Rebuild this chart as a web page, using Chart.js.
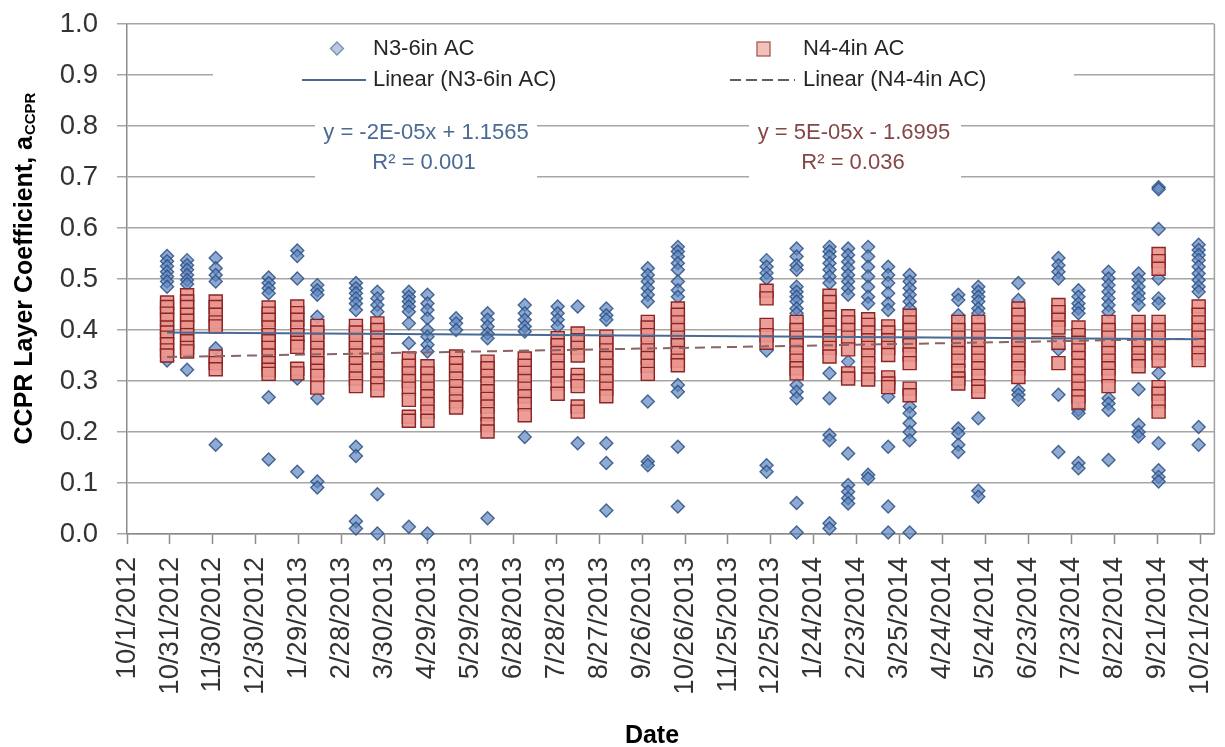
<!DOCTYPE html>
<html><head><meta charset="utf-8">
<script src="https://cdn.jsdelivr.net/npm/chart.js@4.4.1/dist/chart.umd.min.js"></script>
<style>html,body{margin:0;padding:0;background:#fff;overflow:hidden}</style>
</head><body>
<canvas id="c" width="1225" height="747"></canvas>
<script>
const FONT = "'Liberation Sans', Arial, sans-serif";
const axisStartDate = '2012-10-01';
const axisMaxDays = 760;
const tickStepDays = 30;
const xTickLabels = ['10/1/2012','10/31/2012','11/30/2012','12/30/2012','1/29/2013','2/28/2013','3/30/2013','4/29/2013','5/29/2013','6/28/2013','7/28/2013','8/27/2013','9/26/2013','10/26/2013','11/25/2013','12/25/2013','1/24/2014','2/23/2014','3/25/2014','4/24/2014','5/24/2014','6/23/2014','7/23/2014','8/22/2014','9/21/2014','10/21/2014'];

const dates = ['2012-10-29','2012-11-12','2012-12-02','2013-01-08','2013-01-28','2013-02-11','2013-03-10','2013-03-25','2013-04-16','2013-04-29','2013-05-19','2013-06-10','2013-07-06','2013-07-29','2013-08-12','2013-09-01','2013-09-30','2013-10-21','2013-12-22','2014-01-12','2014-02-04','2014-02-17','2014-03-03','2014-03-17','2014-04-01','2014-05-05','2014-05-19','2014-06-16','2014-07-14','2014-07-28','2014-08-18','2014-09-08','2014-09-22','2014-10-20'];

const n3Values = [
 [.545,.535,.525,.514,.505,.495,.485,.34],
 [.537,.527,.518,.508,.498,.49,.322],
 [.541,.521,.508,.495,.364,.175],
 [.503,.492,.482,.472,.268,.146],
 [.556,.545,.501,.305,.122],
 [.488,.478,.469,.426,.266,.103,.091],
 [.492,.482,.472,.462,.452,.439,.171,.153,.025,.011],
 [.475,.462,.449,.436,.078,.001],
 [.475,.465,.456,.446,.436,.413,.374,.014],
 [.469,.452,.439,.423,.40,.387,.371,.358,.001],
 [.423,.413,.40],
 [.433,.42,.407,.393,.384,.031],
 [.449,.433,.42,.407,.397,.19],
 [.446,.433,.42,.407],
 [.446,.178],
 [.442,.429,.42,.178,.139,.046],
 [.521,.508,.495,.482,.469,.456,.26,.142,.135],
 [.563,.554,.544,.531,.518,.495,.478,.465,.292,.279,.171,.054],
 [.537,.524,.512,.501,.36,.135,.122],
 [.56,.544,.527,.518,.485,.475,.465,.456,.442,.433,.292,.279,.266,.061,.003],
 [.563,.554,.544,.531,.518,.505,.492,.315,.266,.194,.184,.021,.011],
 [.56,.547,.534,.521,.508,.495,.482,.469,.338,.158,.096,.083,.07,.06],
 [.563,.544,.524,.505,.485,.465,.452,.116,.109],
 [.524,.508,.492,.472,.452,.439,.269,.171,.054,.003],
 [.508,.495,.482,.469,.456,.442,.25,.237,.217,.20,.184,.003],
 [.469,.459,.429,.207,.197,.175,.161],
 [.485,.475,.465,.456,.442,.433,.227,.085,.073],
 [.492,.459,.282,.273,.263],
 [.541,.527,.514,.501,.362,.273,.161],
 [.478,.465,.452,.442,.433,.243,.237,.139,.129],
 [.514,.501,.488,.475,.462,.449,.436,.266,.256,.243,.145],
 [.511,.498,.485,.472,.462,.449,.284,.214,.20,.191],
 [.68,.676,.598,.501,.462,.452,.315,.178,.125,.112,.103],
 [.567,.557,.547,.537,.524,.511,.498,.485,.475,.21,.175]
];

const n4Values = [
 [.454,.445,.432,.42,.405,.395,.385,.372,.36,.35],
 [.468,.456,.445,.43,.418,.405,.39,.378,.365,.358],
 [.456,.445,.43,.415,.407,.348,.335,.323],
 [.444,.432,.42,.405,.39,.378,.365,.35,.335,.322,.314],
 [.446,.433,.42,.405,.39,.375,.367,.324,.315],
 [.408,.395,.38,.365,.35,.335,.32,.31,.287],
 [.408,.395,.38,.365,.35,.335,.32,.305,.29],
 [.413,.40,.385,.37,.355,.34,.325,.31,.295,.282],
 [.344,.33,.315,.30,.285,.263,.23,.222],
 [.329,.315,.30,.285,.27,.255,.24,.222],
 [.348,.335,.32,.305,.29,.275,.26,.248],
 [.338,.325,.31,.295,.28,.265,.25,.235,.215,.201],
 [.344,.33,.316,.30,.285,.27,.255,.233],
 [.384,.37,.355,.34,.325,.31,.295,.275],
 [.393,.38,.365,.35,.312,.30,.29,.25,.24],
 [.387,.375,.36,.345,.33,.315,.30,.285,.27],
 [.416,.405,.39,.375,.36,.345,.33,.314],
 [.442,.43,.415,.40,.385,.37,.355,.34,.331],
 [.477,.462,.41,.39,.375],
 [.416,.40,.385,.37,.355,.34,.325,.315],
 [.467,.455,.44,.425,.41,.395,.38,.365,.348],
 [.427,.415,.40,.385,.362,.315,.305],
 [.421,.41,.395,.38,.365,.35,.335,.315,.303],
 [.407,.395,.38,.365,.351,.307,.295,.288],
 [.428,.415,.40,.385,.37,.352,.335,.285,.272],
 [.416,.40,.385,.37,.355,.34,.32,.305,.295],
 [.416,.40,.385,.37,.355,.34,.325,.31,.29,.279],
 [.442,.43,.415,.40,.385,.37,.355,.34,.325,.308],
 [.449,.435,.42,.405,.375,.335],
 [.405,.39,.375,.36,.345,.33,.315,.30,.285,.27,.258],
 [.416,.40,.385,.37,.355,.34,.325,.31,.29],
 [.416,.40,.385,.37,.355,.34,.329],
 [.549,.535,.52,.416,.40,.385,.37,.355,.34,.288,.275,.26,.24],
 [.446,.43,.415,.40,.385,.37,.355,.341]
];

const trendN3 = [0.395, 0.382];
const trendN4 = [0.347, 0.383];

const eqN3 = ['y = -2E-05x + 1.1565', 'R\u00B2 = 0.001'];
const eqN4 = ['y = 5E-05x - 1.6995', 'R\u00B2 = 0.036'];

function dayOffset(s) {
  const [y, m, d] = s.split('-').map(Number);
  const [y0, m0, d0] = axisStartDate.split('-').map(Number);
  return Math.round((Date.UTC(y, m - 1, d) - Date.UTC(y0, m0 - 1, d0)) / 86400000);
}
const n3Points = dates.flatMap((d, i) => n3Values[i].map(v => ({ x: dayOffset(d), y: v })));
const n4Points = dates.flatMap((d, i) => n4Values[i].map(v => ({ x: dayOffset(d), y: v })));
const firstX = dayOffset(dates[0]), lastX = dayOffset(dates[dates.length - 1]);
const trendN3Points = [{ x: firstX, y: trendN3[0] }, { x: lastX, y: trendN3[1] }];
const trendN4Points = [{ x: firstX, y: trendN4[0] }, { x: lastX, y: trendN4[1] }];

const BLUE_LINE = '#4A6A94';
const RED_LINE = '#8C6262';

const overlay = {
  id: 'overlay',
  beforeDatasetsDraw(chart) {
    const ctx = chart.ctx, a = chart.chartArea;
    ctx.save();
    ctx.fillStyle = '#ffffff';
    ctx.fillRect(213, a.top + 2, 861, 76);
    ctx.fillRect(315, 112, 222, 70);
    ctx.fillRect(749, 112, 212, 70);
    ctx.strokeStyle = '#a0a0a0';
    ctx.lineWidth = 1.5;
    ctx.beginPath(); ctx.moveTo(a.right, a.top); ctx.lineTo(a.right, a.bottom); ctx.stroke();
    ctx.restore();
  },
  afterDraw(chart) {
    const ctx = chart.ctx;
    ctx.save();
    ctx.font = '22px ' + FONT;
    ctx.textBaseline = 'middle';
    ctx.textAlign = 'left';
    ctx.fillStyle = '#262626';
    ctx.fillText('N3-6in AC', 373, 49);
    ctx.fillText('Linear (N3-6in AC)', 373, 80);
    ctx.fillText('N4-4in AC', 803, 49);
    ctx.fillText('Linear (N4-4in AC)', 803, 80);
    ctx.beginPath();
    ctx.moveTo(337, 42); ctx.lineTo(343.5, 48.5); ctx.lineTo(337, 55); ctx.lineTo(330.5, 48.5); ctx.closePath();
    ctx.fillStyle = '#B7CADF'; ctx.fill();
    ctx.strokeStyle = '#7890B0'; ctx.lineWidth = 1.3; ctx.stroke();
    ctx.fillStyle = '#F3C0BB';
    ctx.fillRect(757, 42, 13, 14);
    ctx.strokeStyle = '#A85A5A'; ctx.strokeRect(757, 42, 13, 14);
    ctx.lineWidth = 2;
    ctx.strokeStyle = BLUE_LINE;
    ctx.beginPath(); ctx.moveTo(302, 80); ctx.lineTo(366, 80); ctx.stroke();
    ctx.strokeStyle = '#6a5a5a';
    ctx.setLineDash([11, 5]);
    ctx.beginPath(); ctx.moveTo(730, 80); ctx.lineTo(795, 80); ctx.stroke();
    ctx.setLineDash([]);
    ctx.textAlign = 'center';
    ctx.fillStyle = '#4A6A94';
    ctx.fillText(eqN3[0], 426, 133);
    ctx.fillText(eqN3[1], 424, 163);
    ctx.fillStyle = '#874646';
    ctx.fillText(eqN4[0], 854, 133);
    ctx.fillText(eqN4[1], 853, 163);
    ctx.fillStyle = '#000';
    ctx.font = 'bold 25px ' + FONT;
    ctx.fillText('Date', 652, 736);
    ctx.translate(25, 269);
    ctx.rotate(-Math.PI / 2);
    const main = 'CCPR Layer Coefficient, a', sub = 'CCPR';
    ctx.font = 'bold 25px ' + FONT;
    const wm = ctx.measureText(main).width;
    ctx.font = 'bold 15px ' + FONT;
    const ws = ctx.measureText(sub).width;
    const x0 = -(wm + ws) / 2;
    ctx.textAlign = 'left';
    ctx.font = 'bold 25px ' + FONT;
    ctx.fillText(main, x0, 0);
    ctx.font = 'bold 15px ' + FONT;
    ctx.fillText(sub, x0 + wm + 1, 6);
    ctx.restore();
  }
};

new Chart(document.getElementById('c'), {
  type: 'scatter',
  data: {
    datasets: [
      { type: 'line', label: 'Linear (N3-6in AC)', data: trendN3Points, borderColor: BLUE_LINE, borderWidth: 2, pointRadius: 0, fill: false, order: 0 },
      { type: 'line', label: 'Linear (N4-4in AC)', data: trendN4Points, borderColor: RED_LINE, borderWidth: 2, borderDash: [10, 6], pointRadius: 0, fill: false, order: 1 },
      { label: 'N4-4in AC', data: n4Points, pointStyle: 'rect', pointRadius: 9.2, backgroundColor: 'rgba(234,150,143,0.92)', borderColor: '#8B2424', borderWidth: 1.4, clip: false, order: 2 },
      { label: 'N3-6in AC', data: n3Points, pointStyle: 'rectRot', pointRadius: 6.5, backgroundColor: 'rgba(95,135,192,0.7)', borderColor: 'rgba(45,80,130,0.85)', borderWidth: 1.4, clip: false, order: 3 }
    ]
  },
  options: {
    responsive: false,
    animation: false,
    devicePixelRatio: 1,
    layout: { padding: { left: 0, right: 8, top: 24, bottom: 0 } },
    plugins: { legend: { display: false }, tooltip: { enabled: false } },
    scales: {
      x: {
        type: 'linear', min: 0, max: axisMaxDays,
        afterBuildTicks: s => { s.ticks = xTickLabels.map((_, i) => ({ value: i * tickStepDays })); },
        afterFit: s => { s.height = 213; s.paddingLeft = 0; s.paddingRight = 0; },
        ticks: {
          stepSize: tickStepDays, autoSkip: false, minRotation: 90, maxRotation: 90, padding: 13,
          color: '#333', font: { family: FONT, size: 27.5 },
          callback: v => xTickLabels[Math.round(v / tickStepDays)]
        },
        grid: { drawOnChartArea: false, drawTicks: true, tickLength: 10, tickColor: '#8c8c8c', tickWidth: 1.5 },
        border: { display: true, color: '#8c8c8c', width: 1.5 }
      },
      y: {
        min: 0, max: 1,
        afterFit: s => { s.width = 127; s.paddingTop = 0; s.paddingBottom = 0; },
        ticks: { stepSize: 0.1, padding: 19, color: '#333', font: { family: FONT, size: 27.5 }, callback: v => Number(v).toFixed(1) },
        grid: { color: '#a6a6a6', lineWidth: 1.5, tickLength: 10, tickColor: '#a6a6a6' },
        border: { display: true, color: '#8c8c8c', width: 1.5 }
      }
    }
  },
  plugins: [overlay]
});
</script>
</body></html>
